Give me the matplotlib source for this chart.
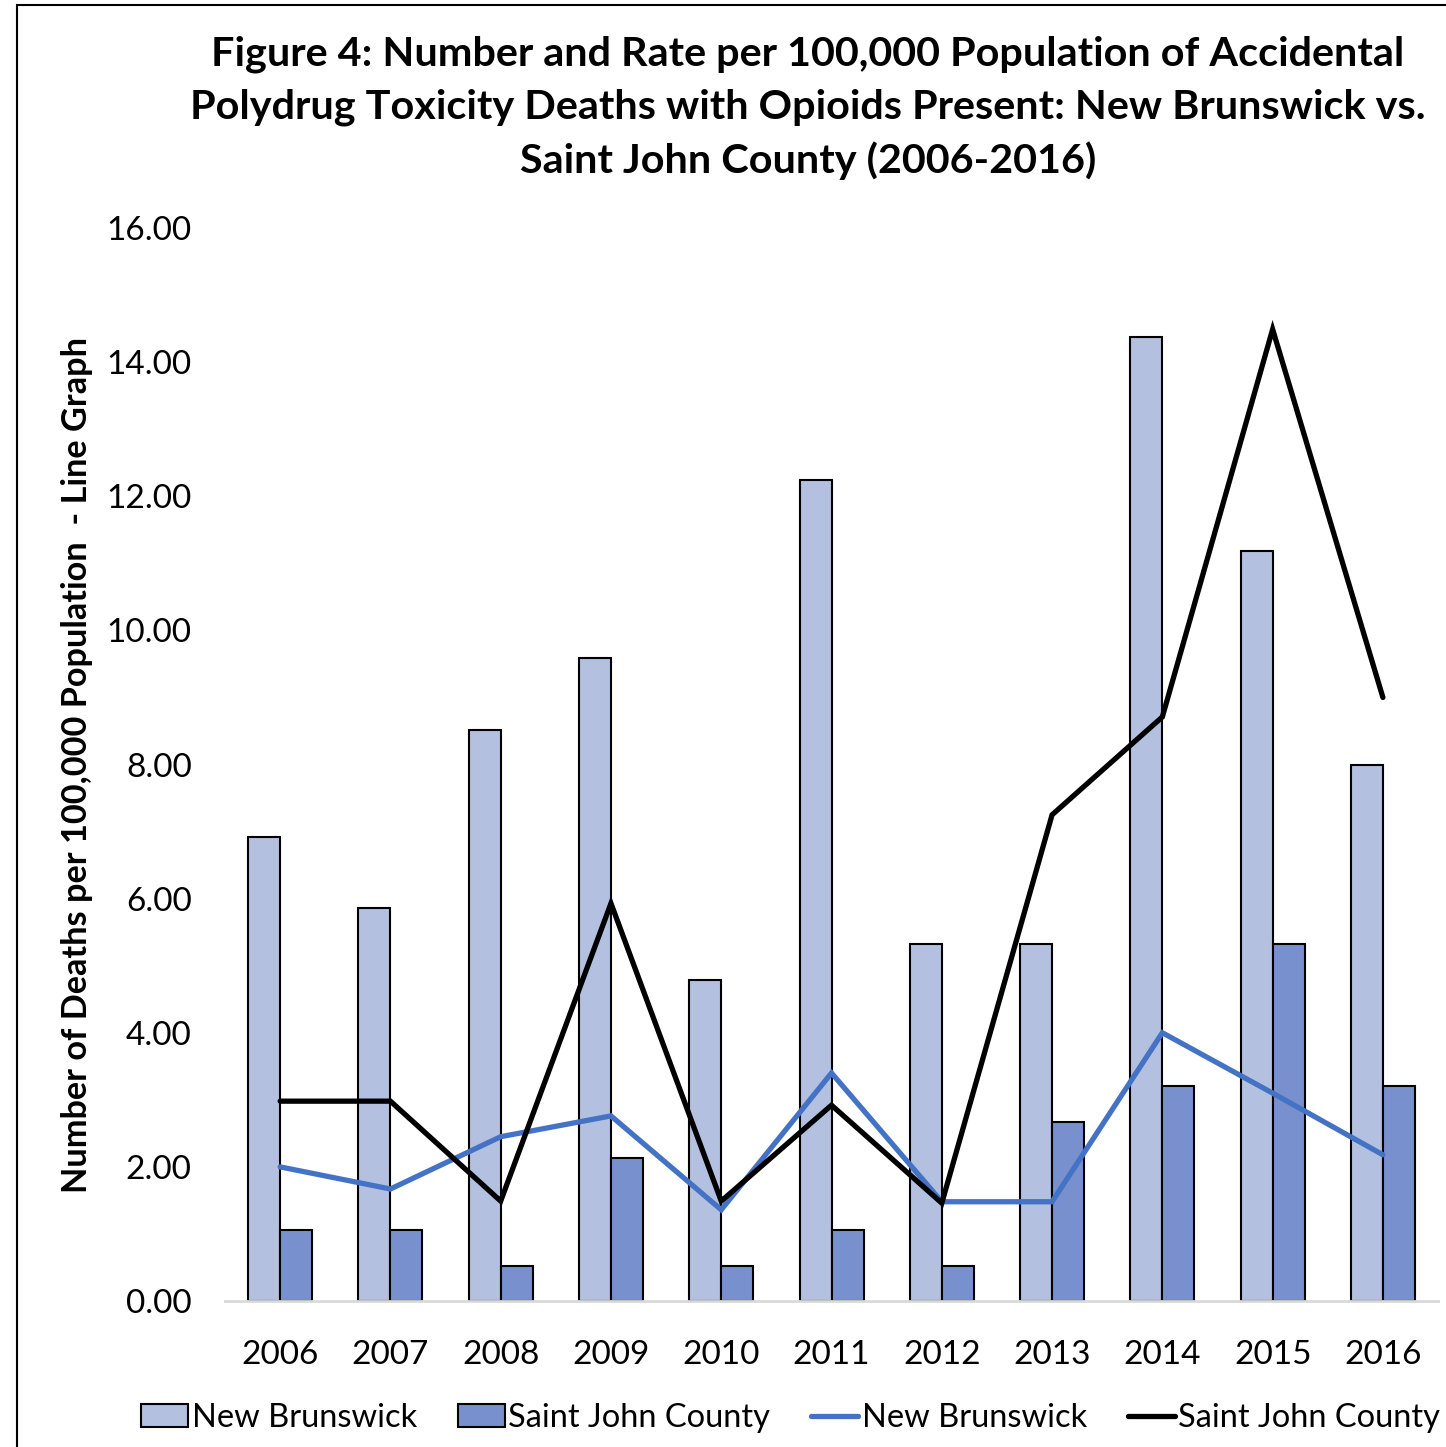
import numpy as np
import matplotlib
matplotlib.use("Agg")
import matplotlib.pyplot as plt
from matplotlib.patches import Rectangle

plt.rcParams['font.family'] = ['Lato', 'DejaVu Sans']

years = ['2006', '2007', '2008', '2009', '2010', '2011', '2012', '2013', '2014', '2015', '2016']
nb_deaths = [6.92, 5.86, 8.51, 9.59, 4.79, 12.24, 5.32, 5.32, 14.37, 11.18, 7.99]
sj_deaths = [1.06, 1.06, 0.52, 2.13, 0.52, 1.06, 0.52, 2.67, 3.21, 5.32, 3.21]
nb_rate = [2.00, 1.67, 2.45, 2.76, 1.36, 3.40, 1.48, 1.48, 4.00, 3.10, 2.18]
sj_rate = [2.98, 2.98, 1.49, 5.93, 1.49, 2.92, 1.46, 7.25, 8.71, 14.49, 9.00]

fig = plt.figure(figsize=(14.46, 14.47), dpi=100)
ax = fig.add_axes([0.1556, 0.1009, 0.8389, 0.7415])

x = np.arange(len(years))
w = 0.29
b1 = ax.bar(x, nb_deaths, width=-w, align='edge', color='#B4C0E0', edgecolor='black',
            linewidth=1.5, zorder=2)
b2 = ax.bar(x, sj_deaths, width=w, align='edge', color='#7891CE', edgecolor='black',
            linewidth=1.5, zorder=2)
l1, = ax.plot(x, nb_rate, color='#4472C4', linewidth=3.8, zorder=3,
              solid_capstyle='round', solid_joinstyle='miter')
l2, = ax.plot(x, sj_rate, color='black', linewidth=3.8, zorder=4,
              solid_capstyle='round', solid_joinstyle='miter')

ax.set_xlim(-0.5, len(years) - 0.5)
ax.set_ylim(0, 16)
ax.set_yticks(np.arange(0, 17, 2))
ax.set_yticklabels(['%.2f' % v for v in np.arange(0, 17, 2)], fontsize=24)
ax.set_xticks(x)
ax.set_xticklabels(years, fontsize=24)
ax.tick_params(axis='both', length=0)
ax.tick_params(axis='y', pad=24)
ax.tick_params(axis='x', pad=28)
for s in ['top', 'right', 'left']:
    ax.spines[s].set_visible(False)
ax.spines['bottom'].set_color('#D9D9D9')
ax.spines['bottom'].set_linewidth(2)

ax.set_ylabel('Number of Deaths per 100,000 Population  - Line Graph', fontsize=24.7,
             fontweight='bold', labelpad=10)

fig.text(808 / 1446, 1 - 108 / 1447,
         'Figure 4: Number and Rate per 100,000 Population of Accidental\n'
         'Polydrug Toxicity Deaths with Opioids Present: New Brunswick vs.\n'
         'Saint John County (2006-2016)',
         ha='center', va='center', fontsize=29.8, fontweight='bold', linespacing=1.5)

fig.legend([b1, b2, l1, l2],
           ['New Brunswick', 'Saint John County', 'New Brunswick', 'Saint John County'],
           loc='center left', bbox_to_anchor=(128 / 1446, 1 - 1418 / 1447), ncol=4,
           fontsize=23.5, frameon=False, handlelength=1.45, handletextpad=0.1,
           columnspacing=1.25, borderaxespad=0)

fig.patches.append(Rectangle((17 / 1446, -0.1), 1.2, 1 - 5 / 1447 + 0.1,
                             transform=fig.transFigure, fill=False, edgecolor='black',
                             linewidth=1.5))

fig.savefig('out.png', dpi=100)
